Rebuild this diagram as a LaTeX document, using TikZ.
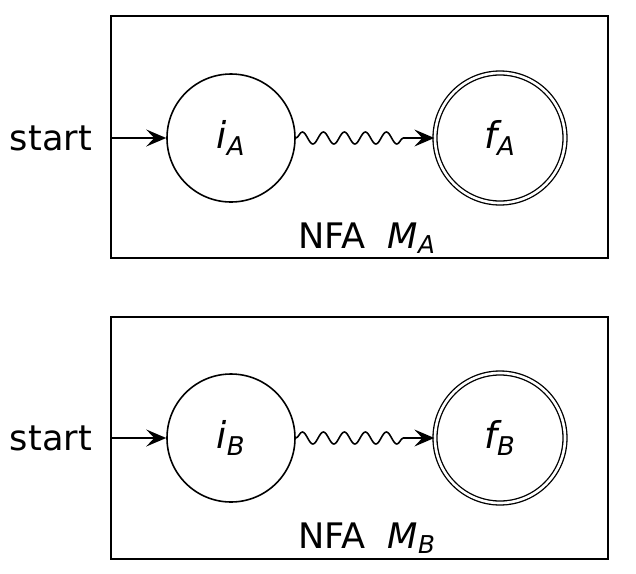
\documentclass[tikz,border=0pt]{standalone}
\usepackage{amsmath}
\usepackage{fontspec}
\setmainfont{DejaVu Sans}
\usetikzlibrary{arrows.meta, decorations.pathmorphing, positioning}

\begin{document}
\begin{tikzpicture}[
  nfabox/.style={rectangle, draw=black, line width=0.9pt, minimum width=9.94cm, minimum height=4.84cm, inner sep=0pt},
  state/.style={circle, draw=black, line width=0.9pt, minimum size=2.56cm, inner sep=0pt, font=\fontsize{21}{25}\selectfont},
  accept/.style={state, line width=0.75pt, double, double distance=1.5pt, minimum size=2.6cm},
  starttext/.style={inner xsep=0.4cm, inner ysep=0pt},
  boxlabel/.style={anchor=base, inner sep=0pt},
  arrow/.style={-{Stealth[length=4mm, width=3.4mm, inset=1.6mm]}, line width=0.9pt},
  snakearrow/.style={arrow, decorate, decoration={snake, amplitude=0.12cm, segment length=0.42cm, post length=0.6cm}},
  font=\fontsize{20}{24}\selectfont
]
\useasboundingbox (0,0) rectangle (12.72,-11.48);

% --- NFA M_A ---
\node[nfabox] (boxA) at (7.19,-2.74) {};
\node[state] (iA) at (4.62,-2.76) {$\textit{i}_{\textit{A}}$};
\node[accept] (fA) at (10.0,-2.76) {$\textit{f}_{\textit{A}}$};
\node[starttext, left=1.08cm of iA] (startA) {start};
\node[boxlabel] (labA) at (7.34,-4.96) {NFA~~$\textit{M}_{\textit{A}}$};

% --- NFA M_B ---
\node[nfabox] (boxB) at (7.19,-8.76) {};
\node[state] (iB) at (4.62,-8.76) {$\textit{i}_{\textit{B}}$};
\node[accept] (fB) at (10.0,-8.76) {$\textit{f}_{\textit{B}}$};
\node[starttext, left=1.08cm of iB] (startB) {start};
\node[boxlabel] (labB) at (7.34,-10.96) {NFA~~$\textit{M}_{\textit{B}}$};

% Verbindungen
\draw[arrow] (startA.east) -- (iA.west);
\draw[snakearrow] (iA.east) -- (fA.west);
\draw[arrow] (startB.east) -- (iB.west);
\draw[snakearrow] (iB.east) -- (fB.west);
\end{tikzpicture}
\end{document}
